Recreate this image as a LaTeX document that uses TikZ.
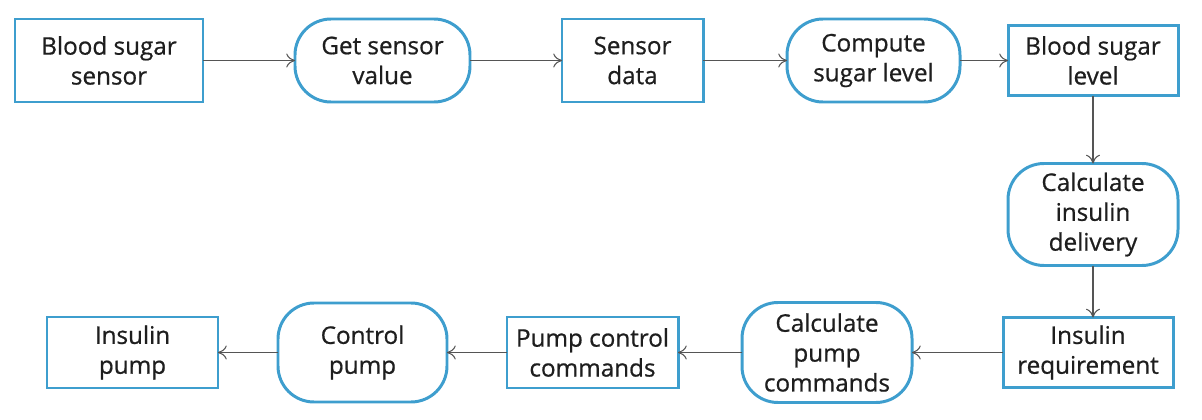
\documentclass[tikz,border=0pt]{standalone}
\usepackage{fontspec}
\setmainfont{Open Sans}[FakeBold=0.7]
\usepackage{tikz}
\usetikzlibrary{positioning}
\usetikzlibrary{arrows.meta}
\definecolor{boxblue}{RGB}{62,158,206}
\definecolor{linegray}{RGB}{85,85,85}
\definecolor{textdark}{RGB}{30,30,30}

\begin{document}
\begin{tikzpicture}[
            > = {To[length=5pt,width=8pt]}, % arrow head style
            auto,
            node distance = 1.2cm, % distance between nodes
            semithick % line style
        ]

        \tikzstyle{every node}=[
            align = center,
            text = textdark,
            font = \fontsize{13.8}{17}\selectfont
        ]
        \tikzstyle{store}=[
            draw = boxblue,
            line width = 1.7pt,
            inner sep = 0pt,
            outer sep = 0pt
        ]
        \tikzstyle{proc}=[
            store,
            rounded corners = 0.72cm
        ]

        \useasboundingbox (0,0) rectangle (24.04,-8.4);

% top row
        \node[store, minimum width=3.76cm, minimum height=1.66cm] (BSS) at (2.18,-1.21) {Blood sugar\\sensor};
        \node[proc, minimum width=3.5cm, minimum height=1.66cm] (GSV) [right=1.84cm of BSS] {Get sensor\\value};
        \node[store, minimum width=2.82cm, minimum height=1.66cm] (SD) [right=1.84cm of GSV] {Sensor\\data};
        \node[proc, minimum width=3.46cm, minimum height=1.66cm] (CSL) [right=1.68cm of SD] {Compute\\sugar level};
        \node[store, minimum width=3.4cm, minimum height=1.4cm] (BSL) [right=0.96cm of CSL] {Blood sugar\\level};

        \path[->, draw=linegray] (BSS) edge node {} (GSV);
        \path[->, draw=linegray] (GSV) edge node {} (SD);
        \path[->, draw=linegray] (SD) edge node {} (CSL);
        \path[->, draw=linegray] (CSL) edge node {} (BSL);

        % right column
        \node[proc, minimum width=3.4cm, minimum height=2.04cm] (CID) [below=1.36cm of BSL] {Calculate\\insulin\\delivery};
        \node[store, minimum width=3.4cm, minimum height=1.4cm] (IR) [below=1.04cm of CID, xshift=-0.1cm] {Insulin\\requirement};

        \path[->, draw=linegray] (BSL) edge node {} (CID);
        \draw[->, linegray] (CID.south) -- (CID.south |- IR.north);

        % bottom row
        \node[proc, minimum width=3.4cm, minimum height=2.0cm] (CPC) [left=1.82cm of IR] {Calculate\\pump\\commands};
        \node[store, minimum width=3.42cm, minimum height=1.42cm] (PCC) [left=1.28cm of CPC] {Pump control\\commands};
        \node[proc, minimum width=3.38cm, minimum height=1.98cm] (CP) [left=1.2cm of PCC] {Control\\pump};
        \node[store, minimum width=3.42cm, minimum height=1.42cm] (IP) [left=1.2cm of CP] {Insulin\\pump};

        \path[->, draw=linegray] (IR) edge node {} (CPC);
        \path[->, draw=linegray] (CPC) edge node {} (PCC);
        \path[->, draw=linegray] (PCC) edge node {} (CP);
        \path[->, draw=linegray] (CP) edge node {} (IP);

  \end{tikzpicture}
\end{document}
